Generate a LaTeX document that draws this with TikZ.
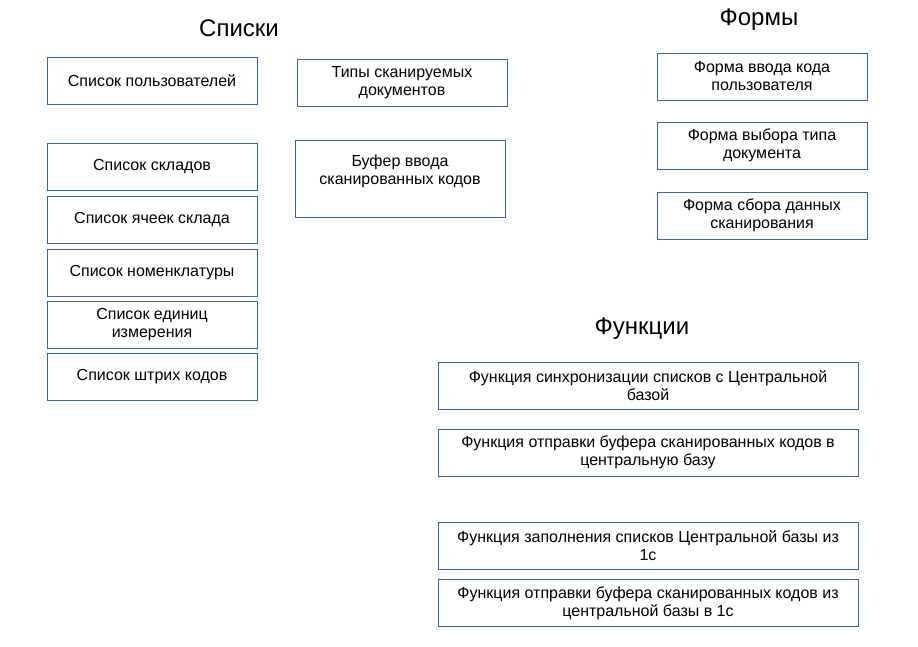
\documentclass[tikz,border=0pt]{standalone}
\usepackage{fontspec}
\setmainfont{Liberation Sans}
\usetikzlibrary{positioning}
\definecolor{boxblue}{RGB}{52,101,164}
\tikzset{
    item/.style={
        draw=boxblue,line width=0.8pt,fill=white,
        minimum width=#1,minimum height=47pt,inner sep=0pt,
        align=center,font=\fontsize{16}{18}\selectfont
    },
    item/.default=210pt,
    heading/.style={
        font=\fontsize{24}{28}\selectfont
    }
}
\begin{document}
\begin{tikzpicture}[x=1pt,y=-1pt]

\useasboundingbox[fill=white] (0,0) rectangle (918,647);

\node[heading](lists) at (239,28) {Списки};

\node[item](users) at (152,80.5) {Список пользователей};

\node[item](doctypes) at (402,82.5) {Типы сканируемых\\документов};

\node[item](stores) at (152,166.5) {Список складов};

\node[item,minimum height=77pt](buffer) at (400,178.5) {};
\node[align=center,font=\fontsize{16}{18}\selectfont,inner sep=0pt]
(buffertext) at (400,171) {Буфер ввода\\сканированных кодов};

\node[item](cells) at (152,219.5) {Список ячеек склада};

\node[item](nomen) at (152,272.5) {Список номенклатуры};

\node[item](units) at (152,324.5) {Список единиц\\измерения};

\node[item](barcodes) at (152,376.5) {Список штрих кодов};

\node[heading](forms) at (759,20) {Формы};

\node[item](fcode) at (762,76.5) {Форма ввода кода\\пользователя};

\node[item](ftype) at (762,145.5) {Форма выбора типа\\документа};

\node[item](fscan) at (762,215.5) {Форма сбора данных\\сканирования};

\node[heading](funcs) at (642,329) {Функции};

\node[item=420pt](sync) at (648,385.5)
{Функция синхронизации списков с Центральной\\базой};

\node[item=420pt](sendc) at (648,452.5)
{Функция отправки буфера сканированных кодов в\\центральную базу};

\node[item=420pt](fill1c) at (648,545.5)
{Функция заполнения списков Центральной базы из\\1с};

\node[item=420pt](send1c) at (648,603)
{Функция отправки буфера сканированных кодов из\\центральной базы в 1с};

\end{tikzpicture}
\end{document}
